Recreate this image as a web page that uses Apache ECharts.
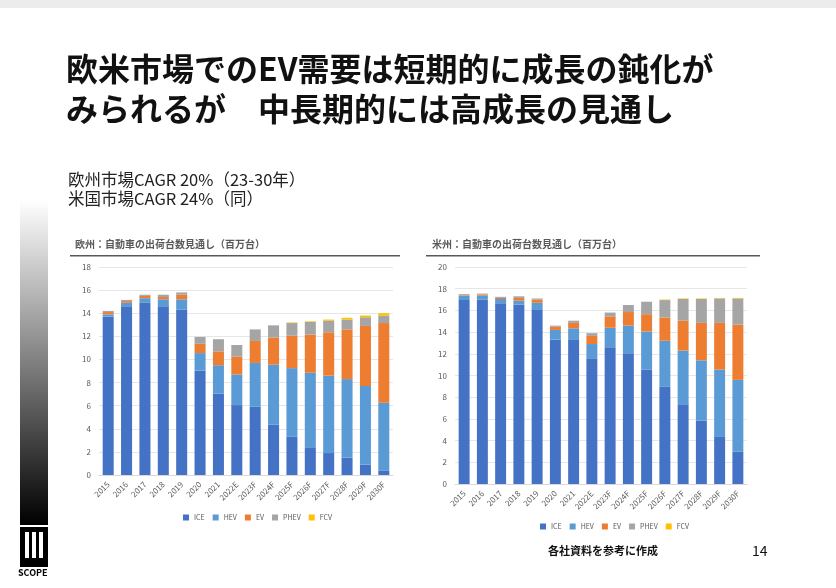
<!DOCTYPE html>
<html><head><meta charset="utf-8">
<script src="https://cdn.jsdelivr.net/npm/echarts@6/dist/echarts.min.js"></script>
<style>html,body{margin:0;padding:0;background:#fff}#c{width:836px;height:588px}</style>
</head><body><div id="c"></div>
<script>
const years = ['2015','2016','2017','2018','2019','2020','2021','2022E','2023F','2024F','2025F','2026F','2027F','2028F','2029F','2030F'];
const seriesNames = ['ICE','HEV','EV','PHEV','FCV'];
const colors = ['#4472C4','#5B9BD5','#ED7D31','#A5A5A5','#FFC000'];
const euICE  = [13.7,14.6,14.9,14.6,14.3,9.05,7.05,6.05,5.9,4.35,3.3,2.4,1.9,1.5,0.9,0.4];
const euHEV  = [0.2,0.3,0.4,0.6,0.9,1.5,2.45,2.65,3.8,5.2,5.95,6.45,6.7,6.8,6.8,5.85];
const euEV   = [0.2,0.15,0.2,0.2,0.4,0.8,1.2,1.55,1.9,2.35,2.8,3.3,3.75,4.3,5.2,6.9];
const euPHEV = [0.1,0.1,0.1,0.2,0.2,0.6,1.05,1.0,1.0,1.05,1.1,1.1,1.0,0.85,0.75,0.65];
const euFCV  = [0,0,0,0,0,0,0,0,0,0,0.05,0.05,0.1,0.15,0.15,0.2];
const usICE  = [16.95,17.0,16.65,16.55,16.1,13.3,13.35,11.6,12.6,12.05,10.55,8.95,7.35,5.85,4.4,3.0];
const usHEV  = [0.4,0.35,0.4,0.35,0.6,0.9,1.0,1.3,1.8,2.55,3.5,4.25,4.95,5.55,6.15,6.6];
const usEV   = [0.05,0.1,0.1,0.25,0.3,0.3,0.5,0.75,1.05,1.25,1.6,2.15,2.75,3.45,4.3,5.1];
const usPHEV = [0.1,0.1,0.1,0.15,0.1,0.1,0.2,0.25,0.35,0.65,1.15,1.6,2.0,2.2,2.25,2.4];
const usFCV  = [0,0,0,0,0,0,0,0,0,0,0,0.05,0.05,0.05,0.05,0.05];
const euData=[euICE,euHEV,euEV,euPHEV,euFCV], usData=[usICE,usHEV,usEV,usPHEV,usFCV];
const F='"Noto Sans CJK JP","Noto Sans",sans-serif';
const chart=echarts.init(document.getElementById('c'));
function mk(data,idx,stack){return data.map((d,i)=>({name:seriesNames[i],type:'bar',stack:stack,xAxisIndex:idx,yAxisIndex:idx,data:d,barWidth:'60%',itemStyle:{color:colors[i]}}));}
const axX=i=>({type:'category',gridIndex:i,data:years,axisTick:{show:false},axisLine:{lineStyle:{color:'#d9d9d9'}},axisLabel:{rotate:45,fontSize:8,color:'#595959',interval:0,fontFamily:F}});
const axY=(i,max)=>({type:'value',gridIndex:i,min:0,max:max,interval:2,axisLabel:{fontSize:8,color:'#595959',fontFamily:F},splitLine:{lineStyle:{color:'#e6e6e6'}}});
chart.setOption({
 animation:false,
 grid:[{left:99,top:267,width:294,height:208},{left:455,top:267,width:292,height:217}],
 xAxis:[axX(0),axX(1)], yAxis:[axY(0,18),axY(1,20)],
 legend:[
  {data:seriesNames,left:178,top:509,itemWidth:6,itemHeight:6,itemGap:8,textStyle:{fontSize:7,color:'#595959',fontFamily:F},icon:'rect'},
  {data:seriesNames,left:535,top:518,itemWidth:6,itemHeight:6,itemGap:8,textStyle:{fontSize:7,color:'#595959',fontFamily:F},icon:'rect'}
 ],
 series:[...mk(euData,0,'eu'),...mk(usData,1,'us')],
 graphic:[
  {type:'rect',shape:{x:0,y:0,width:836,height:8},style:{fill:'#ececec'}},
  {type:'text',left:66,top:53,style:{text:'欧米市場でのEV需要は短期的に成長の鈍化が',font:'bold 32px '+F,fill:'#111'}},
  {type:'text',left:66,top:93,style:{text:'みられるが　中長期的には高成長の見通し',font:'bold 32px '+F,fill:'#111'}},
  {type:'text',left:68,top:171,style:{text:'欧州市場CAGR 20%（23-30年）',font:'16.5px '+F,fill:'#222'}},
  {type:'text',left:68,top:190,style:{text:'米国市場CAGR 24%（同）',font:'16.5px '+F,fill:'#222'}},
  {type:'text',left:75,top:239,style:{text:'欧州：自動車の出荷台数見通し（百万台）',font:'bold 10px '+F,fill:'#595959'}},
  {type:'rect',shape:{x:70,y:255,width:330,height:1.5},style:{fill:'#595959'}},
  {type:'text',left:432,top:239,style:{text:'米州：自動車の出荷台数見通し（百万台）',font:'bold 10px '+F,fill:'#595959'}},
  {type:'rect',shape:{x:426,y:255,width:334,height:1.5},style:{fill:'#595959'}},
  {type:'text',left:548,top:545,style:{text:'各社資料を参考に作成',font:'bold 11px '+F,fill:'#111'}},
  {type:'text',left:752,top:544,style:{text:'14',font:'14px '+F,fill:'#111'}},
  {type:'rect',shape:{x:20,y:200,width:28,height:325},style:{fill:new echarts.graphic.LinearGradient(0,0,0,1,[{offset:0,color:'#ffffff'},{offset:1,color:'#000000'}])}},
  {type:'rect',shape:{x:20,y:527,width:28,height:40},style:{fill:'#000'}},
  {type:'rect',shape:{x:25,y:532,width:4,height:26},style:{fill:'#fff'}},
  {type:'rect',shape:{x:32,y:532,width:4,height:26},style:{fill:'#fff'}},
  {type:'rect',shape:{x:39,y:532,width:4,height:26},style:{fill:'#fff'}},
  {type:'text',left:18,top:568,style:{text:'SCOPE',font:'bold 9px '+F,fill:'#000'}}
 ]
});
</script></body></html>
